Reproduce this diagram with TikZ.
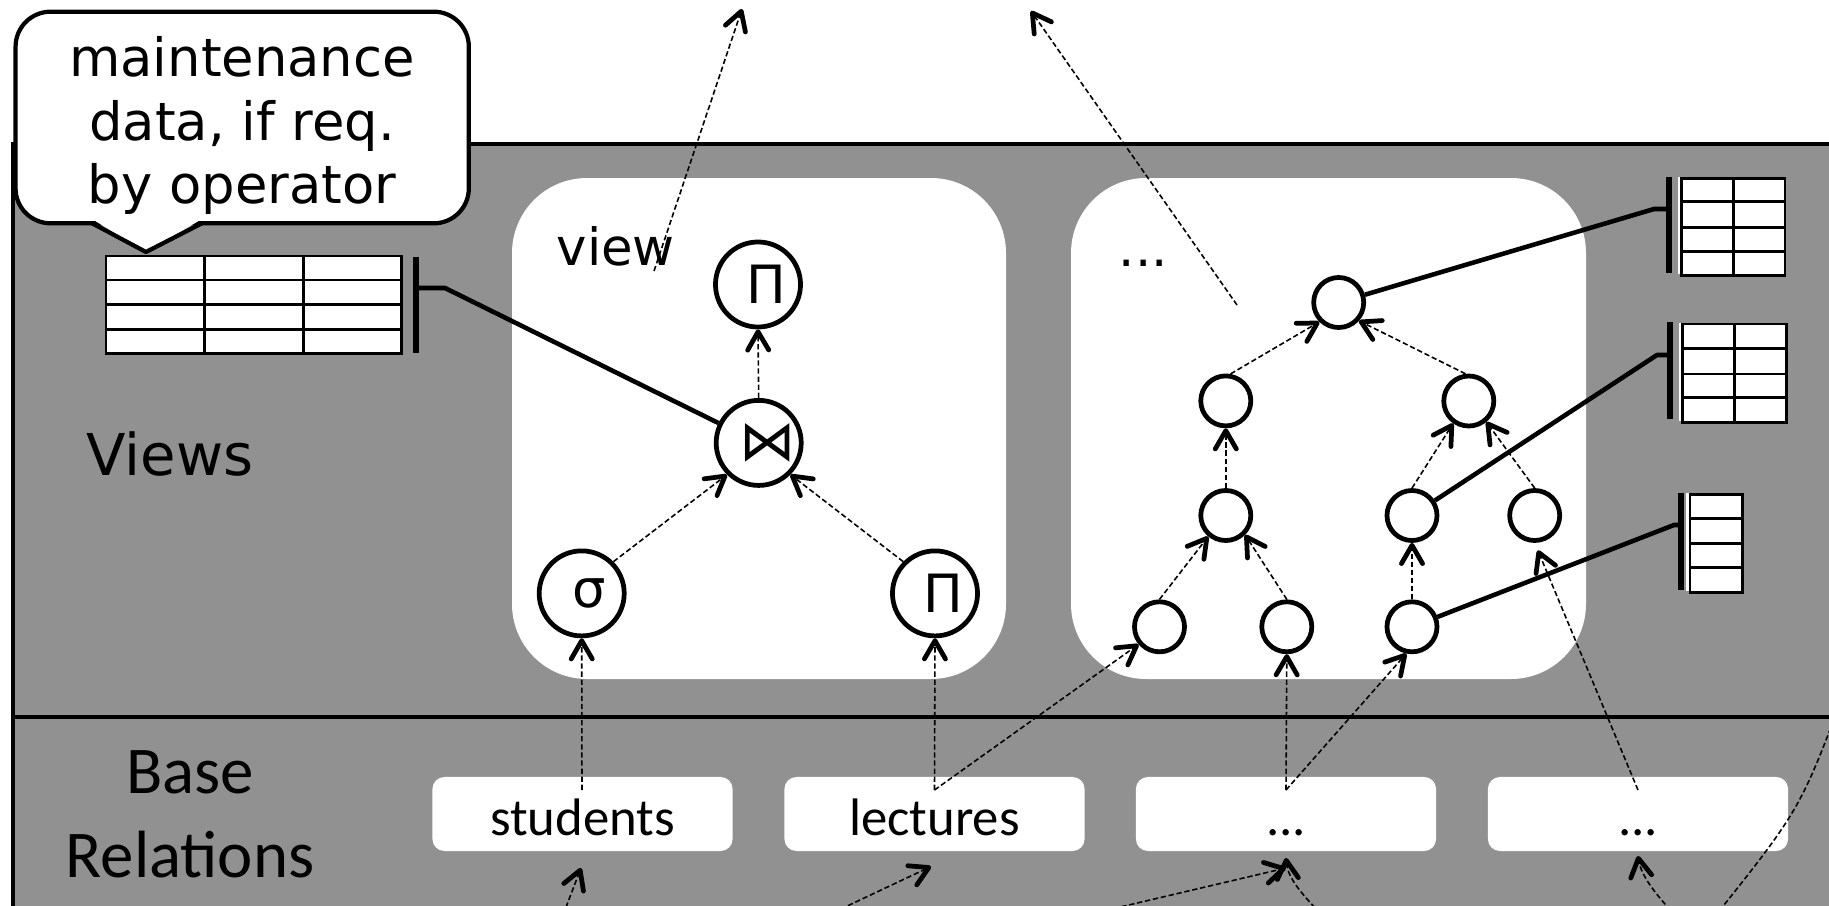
\documentclass[tikz,border=0pt]{standalone}
\usepackage{fontspec}
\setmainfont{DejaVu Sans}
\newfontfamily\calib{Carlito}
\usetikzlibrary{arrows.meta}
\definecolor{laygray}{RGB}{145,145,145}

\tikzset{
  frame/.style={line width=1.3pt},
  panel/.style={fill=white, rounded corners=0.75cm},
  relbox/.style={fill=white, rounded corners=0.12cm, minimum width=3cm, minimum height=0.74cm,
    inner sep=0pt, text height=0.42cm, text depth=0pt, font=\calib\fontsize{15}{18}\selectfont},
  opnode/.style={circle, draw, line width=1.35pt, fill=white, minimum size=0.85cm, inner sep=0pt,
    font=\fontsize{15}{18}\selectfont},
  treenode/.style={circle, draw, line width=1.35pt, fill=white, minimum size=0.5cm, inner sep=0pt},
  flow/.style={line width=0.45pt, dash pattern=on 1.5pt off 0.8pt,
    -{Straight Barb[length=5.2pt, width=6pt, line width=1.35pt, round]}},
  trail/.style={line width=0.45pt, dash pattern=on 1.5pt off 0.8pt},
  link/.style={line width=1.3pt, line join=round},
  bar/.style={line width=1.45pt},
  cell/.style={line width=0.75pt},
  lbl/.style={inner sep=0pt, font=\fontsize{14.6}{18}\selectfont},
}

% data table: x0, y0, x1, y1, column lines, row lines
\newcommand\gridtable[6]{%
  \draw[cell, fill=white] (#1,#2) rectangle (#3,#4);
  \foreach \c in {#5} \draw[cell] (\c,#2) -- (\c,#4);
  \foreach \r in {#6} \draw[cell] (#1,\r) -- (#3,\r);
}
% the same table with its white backing sheet peeking out
\newcommand\sheettable[6]{%
  \fill[white] (#1-4,#2-1.5) rectangle (#3-4,#4-1.5);
  \gridtable{#1}{#2}{#3}{#4}{#5}{#6}
}

\begin{document}
\begin{tikzpicture}[x=0.01cm, y=-0.01cm]
\useasboundingbox (0,0) rectangle (1829,906);
\clip (0,0) rectangle (1829,906);

% layers
\fill[laygray] (13,144) rectangle (1840,920);
\draw[frame] (13,920) -- (13,144) -- (1840,144);
\draw[frame] (13,717) -- (1840,717);

% view panels
\fill[panel] (512,178) rectangle (1006,679);
\fill[panel] (1071,178) rectangle (1586,679);

% base relations
\node[relbox] (students) at (582.5,814) {students};
\node[relbox] (lectures) at (934.5,814) {lectures};
\node[relbox] (relc) at (1286,814) {...};
\node[relbox] (reld) at (1638,814) {...};

% layer and panel labels
\node[inner sep=0pt, anchor=base west, font=\fontsize{16.4}{19}\selectfont] (views) at (86,475) {Views};
\node[inner sep=0pt, align=center, font=\calib\fontsize{19}{23.9}\selectfont] (baselbl) at (190,814) {Base\\Relations};
\node[lbl, anchor=base west] (viewlbl) at (556,265) {view};
\node[lbl, anchor=base west] (morelbl) at (1118,266) {...};

% operator tree of the view
\node[opnode] (ptop) at (758,284.5) {\hspace{0.17cm}Π};
\node[opnode] (join) at (758.7,442.9) {\hspace{0.18cm}{\fontsize{16}{18}\selectfont ⋈}};
\node[opnode] (sel) at (581.7,593.4) {\hspace{0.15cm}σ};
\node[opnode] (pright) at (935,593.4) {\hspace{0.16cm}Π};

% operator tree of the other view
\node[treenode] (T) at (1338.7,302.5) {};
\node[treenode] (L1) at (1225.8,400.9) {};
\node[treenode] (R1) at (1468.8,401) {};
\node[treenode] (L2) at (1225.8,515.5) {};
\node[treenode] (R2a) at (1412,515.5) {};
\node[treenode] (R2b) at (1534.7,515.5) {};
\node[treenode] (B1) at (1159.5,626.8) {};
\node[treenode] (B2) at (1286.8,626.8) {};
\node[treenode] (B3) at (1412,626.8) {};

% data flow inside the views
\draw[flow] (join.north) -- (ptop.south);
\draw[flow] (sel.45) -- (join.225);
\draw[flow] (pright.135) -- (join.-45);
\draw[flow] (L1.80) -- (T.225);
\draw[flow] (R1.97) -- (T.-42);
\draw[flow] (L2.north) -- (L1.south);
\draw[flow] (B1.north) -- (L2.230);
\draw[flow] (B2.north) -- (L2.-45);
\draw[flow] (R2a.north) -- (R1.235);
\draw[flow] (R2b.north) -- (R1.-50);
\draw[flow] (B3.north) -- (R2a.south);

% data flow from the base relations
\coordinate (sOut) at (582,790);
\coordinate (lOut) at (934.5,790);
\coordinate (cOut) at (1286,790);
\coordinate (dOut) at (1638,790);
\draw[flow] (sOut) -- (sel.south);
\draw[flow] (lOut) -- (pright.south);
\draw[flow] (lOut) -- (B1.220);
\draw[flow] (cOut) -- (B2.south);
\draw[flow] (cOut) -- (B3.258);
\draw[flow, shorten >=2.3pt] (dOut) -- (R2b.south);

% results leaving the views
\coordinate (vTail) at (654,271);
\coordinate (vTip) at (742,9);
\coordinate (wTail) at (1237,305);
\coordinate (wTip) at (1031,11);
\draw[flow] (vTail) -- (vTip);
\draw[flow] (wTail) -- (wTip);

% updates arriving at the base relations
\coordinate (sFrom) at (563,915);
\coordinate (sIn) at (581,868);
\coordinate (lFrom) at (826,916);
\coordinate (lIn) at (931,866.5);
\coordinate (cFrom) at (1082,916);
\coordinate (cIn) at (1286,868);
\coordinate (cFrom2) at (1332,925);
\coordinate (cIn2) at (1286,858);
\coordinate (dFrom) at (1682,922);
\coordinate (dIn) at (1638,856);
\coordinate (eFrom) at (1845,690);
\coordinate (eTo) at (1708,925);
\draw[flow] (sFrom) -- (sIn);
\draw[flow] (lFrom) -- (lIn);
\draw[flow] (cFrom) -- (cIn);
\draw[flow] (cFrom2) .. controls (1305,898) and (1288,880) .. (cIn2);
\draw[flow] (dFrom) .. controls (1655,895) and (1641,875) .. (dIn);
\draw[trail] (eFrom) .. controls (1800,810) .. (eTo);

% maintenance tables and their links
\coordinate (jBar) at (416,288);
\coordinate (jKnee) at (445,288);
\coordinate (aBar) at (1669,209);
\coordinate (aKnee) at (1654,209);
\coordinate (bBar) at (1670,355);
\coordinate (bKnee) at (1657,355);
\coordinate (cBar) at (1681,525);
\coordinate (cKnee) at (1674,525);
\draw[link] (join) -- (jKnee) -- (jBar);
\draw[link] (T) -- (aKnee) -- (aBar);
\draw[link] (R2a) -- (bKnee) -- (bBar);
\draw[link] (B3) -- (cKnee) -- (cBar);
\draw[bar] (416,256.7) -- (416,352.7);
\draw[bar] (1669,176.7) -- (1669,273.3);
\draw[bar] (1670,322.3) -- (1670,419.3);
\draw[bar] (1681,492.7) -- (1681,590);
\gridtable{106}{256}{401.3}{353.3}{204.4,303.3}{280,304.3,329.3}
\sheettable{1681.7}{178.3}{1785}{275.7}{1733.3}{201.7,227.3,251.7}
\sheettable{1682.7}{324}{1786.7}{422.3}{1734.3}{348.3,374,397.7}
\sheettable{1690}{494.3}{1742.3}{592.7}{1690}{518.3,543.3,567.3}

% callout
\node[draw, fill=white, line width=1.2pt, rounded corners=0.35cm,
  minimum width=4.53cm, minimum height=2.115cm] (note) at (242.2,117.5) {};
\fill[white] (92,219) -- (146,252) -- (202,219) -- cycle;
\draw[line width=1.2pt, line join=round] (92,223.25) -- (146,252) -- (202,223.25);
\node[align=center, inner sep=0pt, font=\fontsize{15}{18}\selectfont] (notetext) at (242,125.5)
  {maintenance\\data, if req.\\by operator};
\end{tikzpicture}
\end{document}
